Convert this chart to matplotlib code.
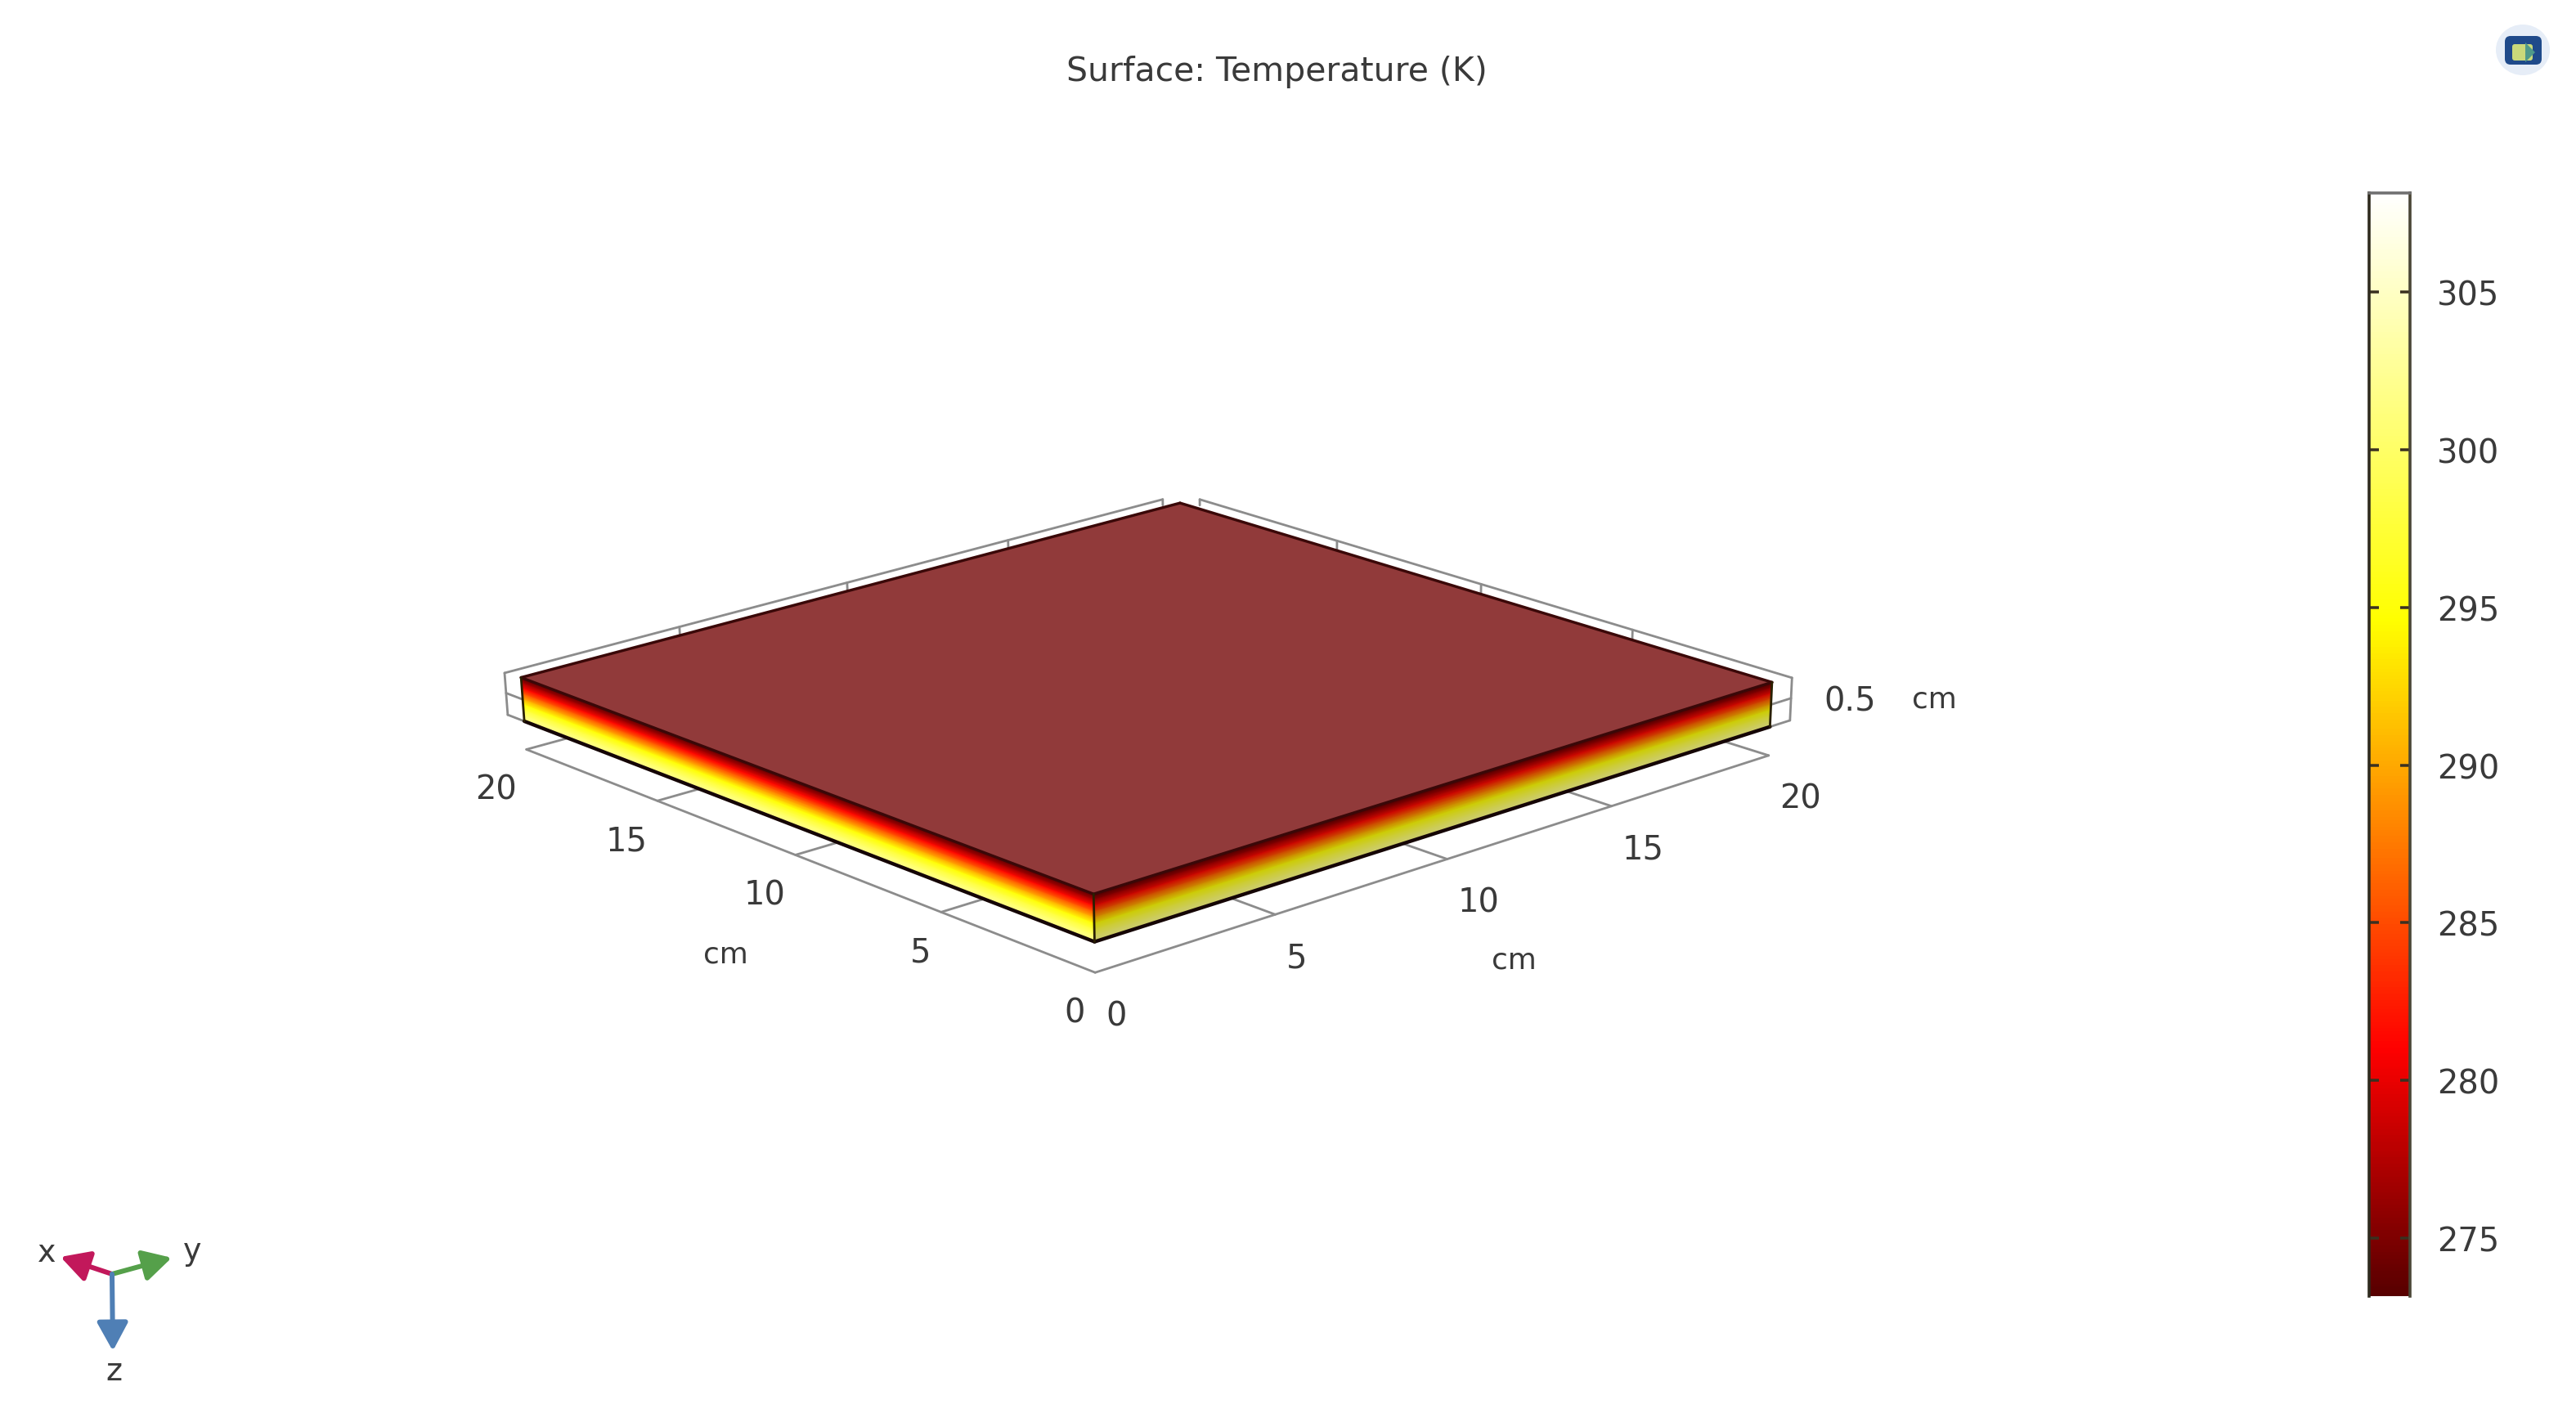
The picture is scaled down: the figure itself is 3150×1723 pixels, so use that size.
import numpy as np
import matplotlib
matplotlib.use("Agg")
import matplotlib.pyplot as plt
from matplotlib.colors import LinearSegmentedColormap, Normalize
from matplotlib.patches import Ellipse, FancyBboxPatch, FancyArrowPatch

# ---- data -------------------------------------------------------------
title = "Surface: Temperature (K)"
T_min, T_max = 273.15, 308.15
cbar_ticks = [275, 280, 285, 290, 295, 300, 305]
xy_ticks = [0, 5, 10, 15, 20]
depth_levels = [0.0, 0.125, 0.25, 0.375, 0.5, 0.625, 0.75, 0.875, 1.0]   # cm below the top face
depth_temps = [273.15, 277.0, 281.5, 286.0, 290.5, 295.0, 298.0, 300.5, 302.0]  # K
cmap_temps = [273.15, 281.0, 294.6, 308.15]
cmap_colors = [(0.34, 0.0, 0.0), (1.0, 0.0, 0.0), (1.0, 1.0, 0.0), (1.0, 1.0, 1.0)]
slab_size = 20.0
floor_depth = 1.65
wall_offset = 0.65
wall_top = 0.04
wall_bottom = 1.0
wall_depth_tick = 0.5

# ---- styling ----------------------------------------------------------
W, H = 3150, 1724
DPI = 100
TXT = "#3a3a3a"
GRID = "#8c8c8c"
TOP = "#913a3a"
px = 72 / DPI   # one pixel in points

plt.rcParams["font.family"] = ["DejaVu Sans"]
fig = plt.figure(figsize=(W / DPI, H / DPI), dpi=DPI, facecolor="white")
ax = fig.add_axes([0, 0, 1, 1])
ax.set_xlim(0, W)
ax.set_ylim(H, 0)
ax.axis("off")

# ---- camera calibrated on the corners of slab and floor ---------------
world = np.array([
    (0, 0, 0), (20, 0, 0), (0, 20, 0), (20, 20, 0),
    (0, 0, 1), (20, 0, 1), (0, 20, 1),
    (0, 0, 1.65), (20, 0, 1.65), (0, 20, 1.65)], float)
screen = np.array([
    (1338, 1094), (637, 830), (2166, 836), (1443, 616),
    (1339, 1151), (640, 883), (2166, 889),
    (1338, 1192), (645, 917), (2162, 925)], float)
A, b = [], []
for (X, Y, Z), (u, v) in zip(world, screen):
    A.append([X, Y, Z, 1, 0, 0, 0, 0, -u * X, -u * Y, -u * Z])
    A.append([0, 0, 0, 0, X, Y, Z, 1, -v * X, -v * Y, -v * Z])
    b += [u, v]
p = np.linalg.lstsq(np.array(A), np.array(b), rcond=None)[0]
P = np.append(p, 1).reshape(3, 4)


def proj(x, y, z):
    x, y, z = np.broadcast_arrays(np.asarray(x, float), np.asarray(y, float), np.asarray(z, float))
    w = P[2, 0] * x + P[2, 1] * y + P[2, 2] * z + P[2, 3]
    return ((P[0, 0] * x + P[0, 1] * y + P[0, 2] * z + P[0, 3]) / w,
            (P[1, 0] * x + P[1, 1] * y + P[1, 2] * z + P[1, 3]) / w)


def line3(a, c, color=GRID, lw=2.8, z=1):
    u, v = proj([a[0], c[0]], [a[1], c[1]], [a[2], c[2]])
    ax.plot(u, v, color=color, lw=lw * px, zorder=z, solid_capstyle="round", solid_joinstyle="round")


# ---- colour maps ------------------------------------------------------
pos = [(t - T_min) / (T_max - T_min) for t in cmap_temps]
cmap_lit = LinearSegmentedColormap.from_list("thermal", list(zip(pos, cmap_colors)), N=512)
shade = 0.8
cmap_shade = LinearSegmentedColormap.from_list(
    "thermal_shade", list(zip(pos, [tuple(shade * c for c in col) for col in cmap_colors])), N=512)
norm = Normalize(T_min, T_max)

# ---- floor grid -------------------------------------------------------
S = slab_size
F = floor_depth
line3((0, 0, F), (S, 0, F))
line3((0, 0, F), (0, S, F))
for t in xy_ticks[1:]:
    line3((t, 0, F), (t, 3, F))
    line3((0, t, F), (3, t, F))

# ---- back walls -------------------------------------------------------
O = S + wall_offset
WT, WB = wall_top, wall_bottom
line3((O, 0, WT), (O, S, WT))
line3((0, O, WT), (S, O, WT))
line3((O, 0, WT), (O, 0, WB))
line3((0, O, WT), (0, O, WB))
line3((O, 0, WB), (S, 0, WB))
line3((0, O, WB), (0, S, WB))
line3((O, 0, wall_depth_tick), (S, 0, wall_depth_tick))
line3((0, O, wall_depth_tick), (0, S, wall_depth_tick))
for t in xy_ticks[1:-1]:
    line3((O, t, WT), (O, t, 0.28))
    line3((t, O, WT), (t, O, 0.28))
line3((O, S, WT), (O, S, 0.18))
line3((S, O, WT), (S, O, 0.18))

# ---- slab -------------------------------------------------------------
d = np.array(depth_levels)
T = np.array(depth_temps)
TT = np.column_stack([T, T])
# face along x (y = 0)
U, V = proj(np.array([0.0, S])[None, :], 0.0, d[:, None])
ax.pcolormesh(U, V, TT, cmap=cmap_lit, norm=norm, shading="gouraud", zorder=3)
# face along y (x = 0)
U, V = proj(0.0, np.array([0.0, S])[None, :], d[:, None])
ax.pcolormesh(U, V, TT, cmap=cmap_shade, norm=norm, shading="gouraud", zorder=3)
# top face
u, v = proj([0, S, S, 0], [0, 0, S, S], [0, 0, 0, 0])
ax.fill(u, v, color=TOP, lw=0, zorder=4)
EDGE = "#150505"
for a, c in [((0, 0, 0), (S, 0, 0)), ((0, 0, 0), (0, S, 0)), ((S, 0, 0), (S, S, 0)), ((0, S, 0), (S, S, 0))]:
    line3(a, c, color="#3a0808", lw=3.4, z=5)
for a, c in [((0, 0, 1), (S, 0, 1)), ((0, 0, 1), (0, S, 1))]:
    line3(a, c, color=EDGE, lw=4.4, z=5)
for a, c in [((0, 0, 0), (0, 0, 1)), ((S, 0, 0), (S, 0, 1)), ((0, S, 0), (0, S, 1))]:
    line3(a, c, color="#2a2000", lw=2.8, z=5)

# ---- tick labels ------------------------------------------------------
FS = 40 * px
for t in xy_ticks:
    u, v = proj(t, 0, F)
    ax.annotate(str(t), (float(u), float(v)), xytext=(-12, -49), textcoords="offset pixels",
                ha="right", va="center", fontsize=FS, color=TXT, zorder=6)
    u, v = proj(0, t, F)
    ax.annotate(str(t), (float(u), float(v)), xytext=(13, -53), textcoords="offset pixels",
                ha="left", va="center", fontsize=FS, color=TXT, zorder=6)
for pos_xy, s, fs in [((887, 1168), "cm", 36 * px), ((1851, 1175), "cm", 36 * px),
                      ((2262, 859), "0.5", FS), ((2365, 856), "cm", 36 * px)]:
    ax.text(*pos_xy, s, ha="center", va="center", fontsize=fs, color=TXT, zorder=6)

ax.text(1561, 88, title, ha="center", va="center", fontsize=41 * px, color=TXT)

# ---- triad ------------------------------------------------------------
origin = (137, 1559)
for tip, col in [((74, 1538), "#c2185b"), ((210, 1539), "#55a04a"), ((138, 1653), "#4f7fb5")]:
    ax.add_patch(FancyArrowPatch(origin, tip, arrowstyle="-|>,head_length=0.55,head_width=0.3",
                                 mutation_scale=38 * px * 1.4,
                                 shrinkA=0, shrinkB=0, lw=6 * px, color=col, zorder=6))
for pos_xy, s in [((57, 1533), "x"), ((235, 1531), "y"), ((139, 1678), "z")]:
    ax.text(*pos_xy, s, ha="center", va="center", fontsize=38 * px, color=TXT, zorder=6)

# ---- logo -------------------------------------------------------------
ax.add_patch(Ellipse((3085, 62), 66, 62, facecolor="#e6edf7", edgecolor="none", zorder=6))
ax.add_patch(FancyBboxPatch((3063, 45), 45, 35, boxstyle="round,pad=0,rounding_size=7",
                            facecolor="#1f4a8a", edgecolor="none", zorder=7))
ax.add_patch(FancyBboxPatch((3072, 55), 25, 20, boxstyle="round,pad=0,rounding_size=3",
                            facecolor="#c9d97a", edgecolor="none", zorder=8))
ax.fill([3088, 3100, 3088], [53, 65, 77], color="#4f9a8a", lw=0, zorder=9)

# ---- colour bar -------------------------------------------------------
cax = fig.add_axes([2897 / W, 1 - 1586 / H, 50 / W, (1586 - 237) / H])
levels = np.linspace(T_min, T_max, 351)
cax.pcolormesh([0, 1], levels, ((levels[:-1] + levels[1:]) / 2)[:, None],
               cmap=cmap_lit, norm=norm, shading="flat")
cax.set_xlim(0, 1)
cax.set_ylim(T_min, T_max)
cax.set_xticks([])
cax.set_yticks(cbar_ticks)
cax.set_yticklabels([str(t) for t in cbar_ticks])
cax.tick_params(axis="y", direction="in", left=True, right=True, labelleft=False, labelright=True,
                length=12 * px, width=3.5 * px, color="#3a3020", pad=33 * px,
                labelsize=FS, labelcolor=TXT)
for name, sp in cax.spines.items():
    sp.set_linewidth(3.6 * px)
    sp.set_edgecolor("#2e2a1e")
cax.spines["top"].set_edgecolor("#707070")
cax.spines["right"].set_edgecolor("#4a4636")
cax.spines["bottom"].set_visible(False)

fig.savefig("out.png", dpi=DPI, facecolor="white")
